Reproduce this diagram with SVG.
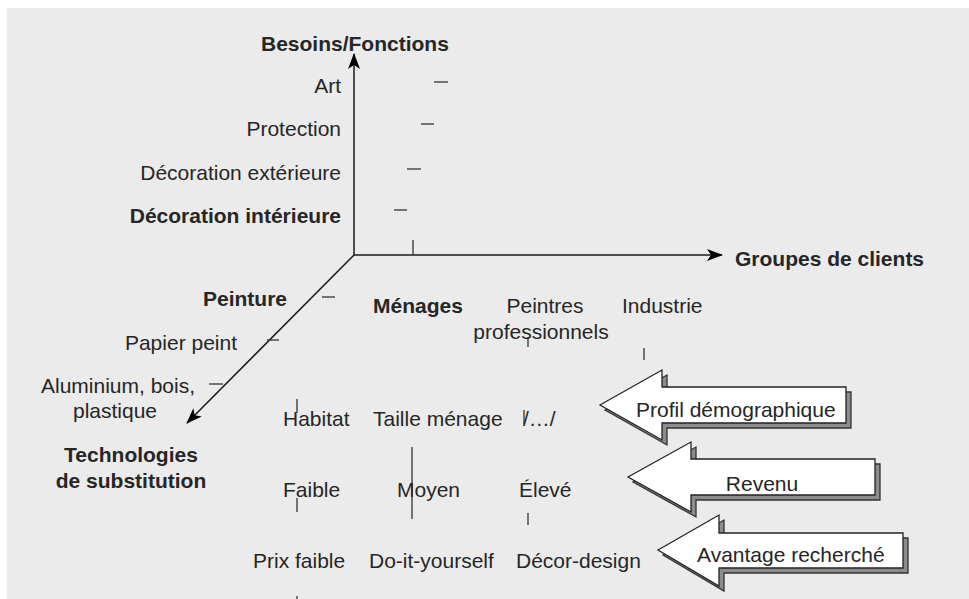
<svg xmlns="http://www.w3.org/2000/svg" width="969" height="599" viewBox="0 0 969 599">
<style>
text{font-family:"Liberation Sans",Arial,sans-serif;font-size:21px;fill:#262626}
.b{font-weight:bold}
.r{text-anchor:end}
.m{text-anchor:middle}
.ax{stroke:#1a1a1a;stroke-width:1.5;fill:none}
.tk{stroke:#333;stroke-width:1.3;fill:none}
.blk{fill:#fff;stroke:#222;stroke-width:1.3}
.sh{fill:#8c8c8c;stroke:#333;stroke-width:1.3}
</style>
<defs>
<marker id="ah" viewBox="0 0 16 12" refX="15" refY="6" markerWidth="16" markerHeight="12" markerUnits="userSpaceOnUse" orient="auto">
<path d="M0,0 L16,6 L0,12 L4,6 z" fill="#000"/>
</marker>
</defs>
<rect x="7" y="8" width="962" height="591" fill="#ebebeb"/>
<g id="connectors">
<line class="ax" x1="354" y1="255" x2="354" y2="54" marker-end="url(#ah)"/>
<line class="ax" x1="354" y1="255" x2="722" y2="255" marker-end="url(#ah)"/>
<line class="ax" x1="354" y1="255" x2="187" y2="423" marker-end="url(#ah)"/>
</g>
<g id="ticks">
<line class="tk" x1="434" y1="82" x2="448" y2="82"/>
<line class="tk" x1="421" y1="124" x2="434" y2="124"/>
<line class="tk" x1="407" y1="169" x2="421" y2="169"/>
<line class="tk" x1="394" y1="210" x2="407" y2="210"/>
<line class="tk" x1="413" y1="240" x2="413" y2="255"/>
<line class="tk" x1="322" y1="297" x2="335" y2="297"/>
<line class="tk" x1="267" y1="340" x2="279" y2="340"/>
<line class="tk" x1="209" y1="384" x2="223" y2="384"/>
<line class="tk" x1="528" y1="337" x2="528" y2="347"/>
<line class="tk" x1="644" y1="348" x2="644" y2="360"/>
<line class="tk" x1="297" y1="399" x2="297" y2="413"/>
<line class="tk" x1="524" y1="410" x2="524" y2="424"/>
<line class="tk" x1="297" y1="498" x2="297" y2="512"/>
<line class="tk" x1="412" y1="447" x2="412" y2="519"/>
<line class="tk" x1="528" y1="513" x2="528" y2="525"/>
<line class="tk" x1="297" y1="596" x2="297" y2="599"/>
</g>
<g id="axis-besoins">
<text class="b" x="261" y="51">Besoins/Fonctions</text>
<text class="r" x="341" y="93">Art</text>
<text class="r" x="341" y="136">Protection</text>
<text class="r" x="341" y="180">Décoration extérieure</text>
<text class="r b" x="341" y="223">Décoration intérieure</text>
</g>
<g id="axis-groupes">
<text class="b" x="735" y="266">Groupes de clients</text>
<text class="b" x="373" y="313">Ménages</text>
<text class="m" x="545" y="313">Peintres</text>
<text class="m" x="541" y="339">professionnels</text>
<text x="622" y="313">Industrie</text>
</g>
<g id="axis-technologies">
<text class="r b" x="287" y="306">Peinture</text>
<text class="r" x="237" y="350">Papier peint</text>
<text class="m" x="118" y="393">Aluminium, bois,</text>
<text class="m" x="115" y="418">plastique</text>
<text class="m b" x="131" y="462">Technologies</text>
<text class="m b" x="131" y="488">de substitution</text>
</g>
<g id="rows">
<text x="283" y="426">Habitat</text>
<text x="373" y="426">Taille ménage</text>
<text x="523" y="426">/…/</text>
<text x="283" y="497">Faible</text>
<text x="397" y="497">Moyen</text>
<text x="519" y="497">Élevé</text>
<text x="253" y="568">Prix faible</text>
<text x="369" y="568">Do-it-yourself</text>
<text x="516" y="568">Décor-design</text>
</g>
<g id="arrow-profil">
<polygon class="sh" transform="translate(5,5)" points="600,405 662,370 662,387 846,387 846,423 662,423 662,440"/>
<polygon class="blk" points="600,405 662,370 662,387 846,387 846,423 662,423 662,440"/>
<text x="636" y="417">Profil démographique</text>
</g>
<g id="arrow-revenu">
<polygon class="sh" transform="translate(5,5)" points="628,477 691,442 691,459 875,459 875,495 691,495 691,512"/>
<polygon class="blk" points="628,477 691,442 691,459 875,459 875,495 691,495 691,512"/>
<text class="m" x="762" y="491">Revenu</text>
</g>
<g id="arrow-avantage">
<polygon class="sh" transform="translate(5,5)" points="658,550 719,515 719,533 903,533 903,568 719,568 719,586"/>
<polygon class="blk" points="658,550 719,515 719,533 903,533 903,568 719,568 719,586"/>
<text x="697" y="562">Avantage recherché</text>
</g>
</svg>
